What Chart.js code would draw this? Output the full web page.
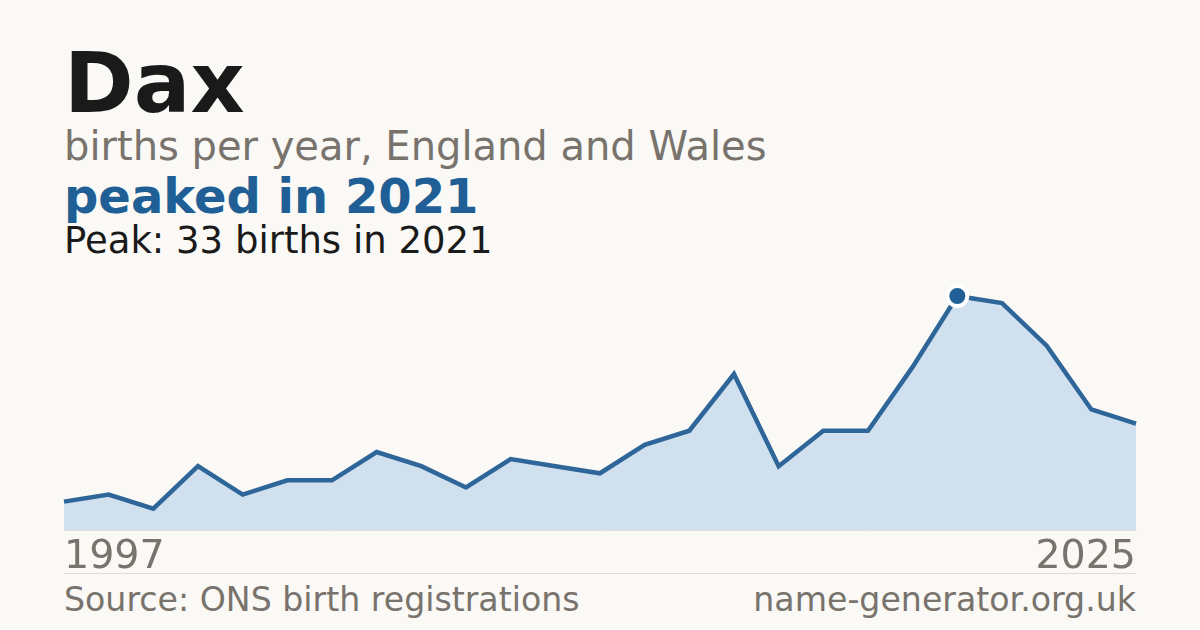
<!DOCTYPE html>
<html>
<head>
<meta charset="utf-8">
<script src="https://cdn.jsdelivr.net/npm/chart.js@4"></script>
<style>
  html, body { margin:0; padding:0; background:#faf9f5; }
  body { width:1200px; height:630px; position:relative; overflow:hidden; font-family:"DejaVu Sans", sans-serif; }
  .t { position:absolute; left:64px; line-height:1; white-space:nowrap; }
  #title { top:41px; font-size:84px; font-weight:bold; color:#1a1a1a; }
  #sub { top:126px; font-size:40px; color:#78736c; }
  #trend { top:172px; font-size:48px; font-weight:bold; color:#1f5f96; }
  #peak { top:222px; font-size:37px; color:#1a1a1a; }
  #sep { position:absolute; left:64px; top:573px; width:1072px; height:1px; background:#dedbd3; }
  #src { top:583px; font-size:33.2px; color:#78736c; }
  #site { top:583px; left:auto; right:64px; font-size:33.2px; color:#78736c; }
  #wrap { position:absolute; left:56px; top:270px; width:1088px; height:310px; }
</style>
</head>
<body>
<div class="t" id="title">Dax</div>
<div class="t" id="sub">births per year, England and Wales</div>
<div class="t" id="trend">peaked in 2021</div>
<div class="t" id="peak">Peak: 33 births in 2021</div>
<div id="wrap"><canvas id="c"></canvas></div>
<div id="sep"></div>
<div class="t" id="src">Source: ONS birth registrations</div>
<div class="t" id="site">name-generator.org.uk</div>
<script>
const years = [1997, 1998, 1999, 2001, 2003, 2005, 2006, 2008, 2009, 2010, 2011, 2012, 2013,
               2014, 2015, 2016, 2017, 2018, 2019, 2020, 2021, 2022, 2023, 2024, 2025];
const births = [4, 5, 3, 9, 5, 7, 7, 11, 9, 6, 10, 9, 8, 12, 14, 22, 9, 14, 14, 23, 33, 32, 26, 17, 15];

const peakIdx = births.indexOf(Math.max(...births));
const radii = births.map((v, i) => i === peakIdx ? 10 : 0);

new Chart(document.getElementById('c'), {
  type: 'line',
  data: {
    labels: years.map(String),
    datasets: [{
      data: births,
      borderColor: '#2f6699',
      borderWidth: 4.5,
      backgroundColor: '#d0e0ef',
      fill: 'origin',
      tension: 0,
      clip: false,
      pointRadius: radii,
      pointHoverRadius: radii,
      pointBackgroundColor: '#1f5f96',
      pointBorderColor: '#ffffff',
      pointBorderWidth: 4
    }]
  },
  options: {
    responsive: true,
    maintainAspectRatio: false,
    devicePixelRatio: 1,
    animation: false,
    events: [],
    layout: { padding: { top: 26, left: 0, right: 0, bottom: 0 } },
    plugins: { legend: { display: false }, tooltip: { enabled: false } },
    scales: {
      x: {
        offset: false,
        grid: { display: false, drawTicks: false },
        border: { display: true, color: '#e2dfd8', width: 1 },
        afterFit: (s) => { s.height = 50; },
        ticks: {
          autoSkip: false,
          maxRotation: 0,
          align: 'inner',
          padding: 8,
          color: '#78736c',
          font: { family: 'DejaVu Sans', size: 39.5, lineHeight: 1 },
          callback: function(v, i, t) { return (i === 0 || i === t.length - 1) ? this.getLabelForValue(v) : ''; }
        }
      },
      y: {
        display: false,
        min: 0,
        max: 33
      }
    }
  }
});
</script>
</body>
</html>
